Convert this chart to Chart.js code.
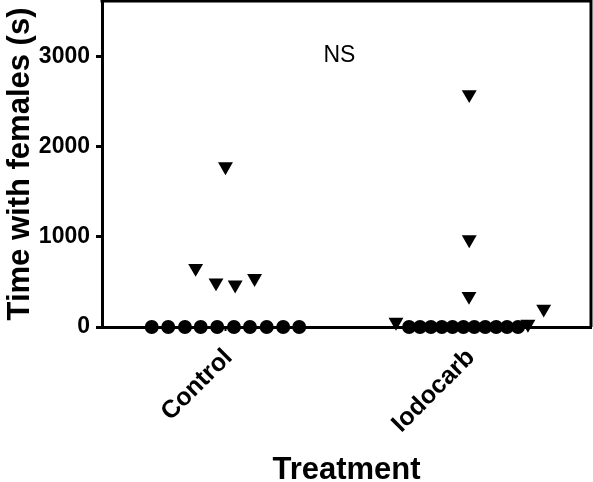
<!DOCTYPE html>
<html><head><meta charset="utf-8">
<script src="https://cdn.jsdelivr.net/npm/chart.js@4/dist/chart.umd.min.js"></script>
<style>html,body{margin:0;padding:0;background:#fff;}#wrap{width:593px;height:482px;}</style>
</head><body><div id="wrap"><canvas id="c" width="593" height="482"></canvas></div>
<script>
const categories = ['Control', 'Iodocarb'];
const yTicks = [0, 1000, 2000, 3000];
const yTitle = 'Time with females (s)';
const xTitle = 'Treatment';
const annotationText = 'NS';

// Control group
const controlCircleValues = [0, 0, 0, 0, 0, 0, 0, 0, 0, 0];
const controlCircleJitter = [-0.304, -0.236, -0.167, -0.102, -0.034, 0.035, 0.101, 0.170, 0.238, 0.304];
const controlTriangleValues = [1781, 653, 492, 468, 540];
const controlTriangleJitter = [0, -0.123, -0.039, 0.040, 0.120];

// Iodocarb group
const iodocarbCircleValues = [0, 0, 0, 0, 0, 0, 0, 0, 0, 0, 0];
const iodocarbCircleJitter = [-0.243, -0.198, -0.153, -0.108, -0.064, -0.019, 0.026, 0.071, 0.116, 0.161, 0.206];
const iodocarbTriangleValues = [2582, 971, 342, 200, 55, 33];
const iodocarbTriangleJitter = [0.005, 0.005, 0.004, 0.312, -0.297, 0.247];

const FONT = "'Liberation Sans', Arial, Helvetica, sans-serif";

function pts(groupIndex, values, jitter) {
  return values.map((v, i) => ({ x: groupIndex + jitter[i], y: v }));
}
function noPadding(s) { s.paddingTop = 0; s.paddingBottom = 0; s.paddingLeft = 0; s.paddingRight = 0; }

const circleStyle = { pointStyle: 'circle', pointRadius: 7, pointBackgroundColor: '#000', pointBorderWidth: 0, showLine: false, clip: false };
const triangleStyle = { pointStyle: 'triangle', pointRotation: 180, pointRadius: 8.6, pointBackgroundColor: '#000', pointBorderWidth: 0, showLine: false, clip: false };

const framePlugin = {
  id: 'frame',
  beforeDatasetsDraw(chart) {
    const { ctx, chartArea: a } = chart;
    ctx.save();
    ctx.strokeStyle = '#000';
    ctx.lineWidth = 3;
    ctx.beginPath();
    ctx.moveTo(a.left - 1.5, a.top);
    ctx.lineTo(a.right, a.top);
    ctx.lineTo(a.right, a.bottom);
    ctx.stroke();
    ctx.restore();
  }
};

const annotationPlugin = {
  id: 'nsLabel',
  afterDraw(chart) {
    const { ctx, scales } = chart;
    ctx.save();
    ctx.fillStyle = '#000';
    ctx.font = "23px " + FONT;
    ctx.textAlign = 'center';
    ctx.textBaseline = 'alphabetic';
    ctx.fillText(annotationText, scales.x.getPixelForValue(0.47), scales.y.getPixelForValue(2944));
    ctx.restore();
  }
};

new Chart(document.getElementById('c'), {
  type: 'scatter',
  data: {
    datasets: [
      Object.assign({ label: 'Control (0)', data: pts(0, controlCircleValues, controlCircleJitter) }, circleStyle),
      Object.assign({ label: 'Control', data: pts(0, controlTriangleValues, controlTriangleJitter) }, triangleStyle),
      Object.assign({ label: 'Iodocarb (0)', data: pts(1, iodocarbCircleValues, iodocarbCircleJitter) }, circleStyle),
      Object.assign({ label: 'Iodocarb', data: pts(1, iodocarbTriangleValues, iodocarbTriangleJitter) }, triangleStyle)
    ]
  },
  options: {
    responsive: false,
    animation: false,
    events: [],
    layout: { autoPadding: false, padding: { top: 1, right: 2, left: 0, bottom: 0 } },
    plugins: { legend: { display: false }, tooltip: { enabled: false } },
    scales: {
      x: {
        type: 'linear',
        min: -0.509,
        max: 1.507,
        afterBuildTicks: (s) => { s.ticks = categories.map((_, i) => ({ value: i })); },
        afterFit: (s) => { s.height = 155; noPadding(s); },
        border: { display: true, color: '#000', width: 3 },
        grid: { display: true, drawOnChartArea: false, drawTicks: true, tickLength: 4, tickWidth: 2, tickColor: '#000', color: '#000' },
        ticks: {
          autoSkip: false, minRotation: 45, maxRotation: 45, padding: 12, labelOffset: 3,
          color: '#000', font: { family: FONT, size: 25, weight: 'bold' },
          callback: (v) => categories[Math.round(v)]
        },
        title: { display: true, text: xTitle, color: '#000', font: { family: FONT, size: 31, weight: 'bold', lineHeight: 0.72 }, padding: 0 }
      },
      y: {
        type: 'linear',
        min: 0,
        max: 3620,
        afterBuildTicks: (s) => { s.ticks = yTicks.map(v => ({ value: v })); },
        afterFit: (s) => { s.width = 102; noPadding(s); },
        border: { display: true, color: '#000', width: 3 },
        grid: { display: true, drawOnChartArea: false, drawTicks: true, tickLength: 6, tickWidth: 3, tickColor: '#000', color: '#000' },
        ticks: { padding: 6, color: '#000', font: { family: FONT, size: 23, weight: 'bold' }, callback: (v) => String(v) },
        title: { display: true, text: yTitle, color: '#000', font: { family: FONT, size: 31, weight: 'bold' }, padding: { top: 2, bottom: 0 } }
      }
    }
  },
  plugins: [framePlugin, annotationPlugin]
});
</script></body></html>
